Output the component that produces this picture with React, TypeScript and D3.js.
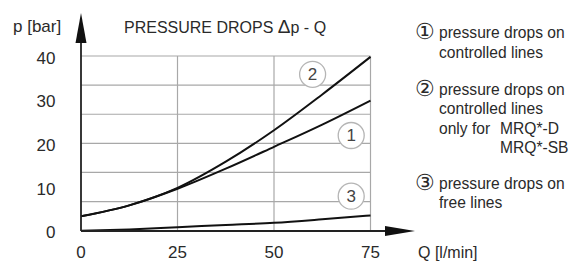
import React from "react";
import * as d3 from "d3";

const qValues = [0, 12.5, 25, 37.5, 50, 62.5, 75];
const line1 = [3.3, 5.8, 9.6, 14.2, 19.2, 24.3, 29.8];
const line2 = [3.3, 5.8, 9.8, 15.8, 23.0, 31.2, 39.8];
const line3 = [0, 0.3, 0.8, 1.3, 1.8, 2.6, 3.5];
const xTicks = [0, 25, 50, 75];
const yTicks = [0, 10, 20, 30, 40];
const yGrid = [0, 40 / 6, 80 / 6, 20, 160 / 6, 200 / 6, 40];
const curveLabels = [
  { label: "2", q: 60, p: 35.8 },
  { label: "1", q: 70, p: 21.8 },
  { label: "3", q: 70, p: 7.9 },
];
const legendLines = [
  { sym: "①", text: "pressure drops on" },
  { sym: "", text: "controlled lines" },
  { sym: "②", text: "pressure drops on" },
  { sym: "", text: "controlled lines" },
  { sym: "", text: "only for", extra: "MRQ*-D" },
  { sym: "", text: "", extra: "MRQ*-SB" },
  { sym: "③", text: "pressure drops on" },
  { sym: "", text: "free lines" },
];
const legendY = [38, 58, 95, 114, 134, 153, 189, 208];

export default function App() {
  const W = 577, H = 262;
  const x = d3.scaleLinear().domain([0, 75]).range([81, 370.5]);
  const y = d3.scaleLinear().domain([0, 40]).range([230.7, 56]);
  const font = "'Liberation Sans', Arial, Helvetica, sans-serif";
  const gen = d3
    .line<number>()
    .x((_, i) => x(qValues[i]))
    .y((d) => y(d))
    .curve(d3.curveMonotoneX);
  const grid = "#a8a8a8";
  const txt = "#2a2a2a";
  return (
    <svg
      width={W}
      height={H}
      style={{ position: "absolute", left: 0, top: 0, background: "#fff" }}
      fontFamily={font}
    >
      <rect width={W} height={H} fill="#fff" />
      {yGrid.map((v, i) => (
        <line key={"h" + i} x1={x(0)} x2={x(75)} y1={y(v)} y2={y(v)} stroke={grid} strokeWidth={1.2} />
      ))}
      {xTicks.slice(1).map((v) => (
        <line key={"v" + v} x1={x(v)} x2={x(v)} y1={y(0)} y2={y(40)} stroke={grid} strokeWidth={1.2} />
      ))}
      {[line1, line2, line3].map((s, i) => (
        <path key={"c" + i} d={gen(s) || ""} fill="none" stroke="#111" strokeWidth={2} />
      ))}
      {curveLabels.map((c) => (
        <g key={"cl" + c.label}>
          <circle cx={x(c.q)} cy={y(c.p)} r={13} fill="#fff" stroke="#b5b5b5" strokeWidth={1.3} />
          <text x={x(c.q)} y={y(c.p) + 6} textAnchor="middle" fontSize={17} fill="#444">
            {c.label}
          </text>
        </g>
      ))}
      {/* axes */}
      <line x1={81} x2={81} y1={231} y2={40} stroke="#222" strokeWidth={1.8} />
      <path d="M81,13 L75.5,43 L86.5,43 Z" fill="#111" />
      <line x1={81} x2={390} y1={231} y2={231} stroke="#222" strokeWidth={1.8} />
      <path d="M415,231 L385,226 L385,236 Z" fill="#111" />
      {yTicks.map((v) => (
        <text key={"yt" + v} x={55.5} y={y(v) + 7.5} textAnchor="end" fontSize={17} fill={txt}>
          {v}
        </text>
      ))}
      {xTicks.map((v) => (
        <text key={"xt" + v} x={x(v)} y={257.5} textAnchor="middle" fontSize={17} fill={txt}>
          {v}
        </text>
      ))}
      <text x={13} y={32} fontSize={17} fill={txt}>p [bar]</text>
      <text x={418} y={257.5} fontSize={16} fill={txt}>Q [l/min]</text>
      <text x={124} y={33} fontSize={16} fill={txt}>
        PRESSURE DROPS <tspan fontSize={19}>Δ</tspan>p - Q
      </text>
      {legendLines.map((l, i) => (
        <g key={"lg" + i}>
          {l.sym && (
            <text x={414.5} y={legendY[i] + 1} fontSize={22} fill={txt}>
              {l.sym}
            </text>
          )}
          {l.text && (
            <text x={439} y={legendY[i]} fontSize={15.6} fill={txt}>
              {l.text}
            </text>
          )}
          {l.extra && (
            <text x={500} y={legendY[i]} fontSize={15.6} fill={txt}>
              {l.extra}
            </text>
          )}
        </g>
      ))}
    </svg>
  );
}
